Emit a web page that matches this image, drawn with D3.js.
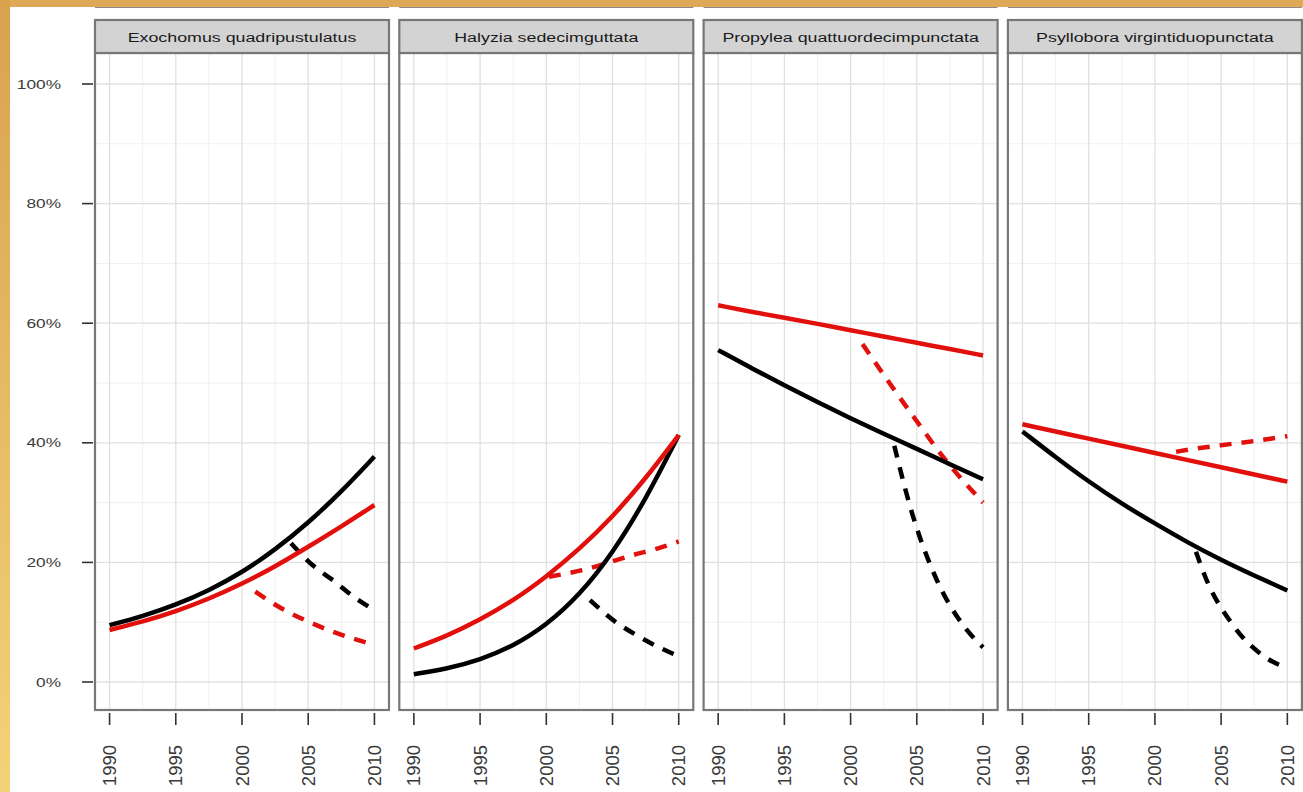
<!DOCTYPE html>
<html>
<head>
<meta charset="utf-8">
<script src="https://cdn.jsdelivr.net/npm/d3@7"></script>
<style>
  body { margin: 0; background: #fff; }
  svg { display: block; }
</style>
</head>
<body>
<div id="chart"></div>
<script>
  const width = 1303;
  const height = 792;

  // facet names
  const species = ["Exochomus quadripustulatus", "Halyzia sedecimguttata",
                   "Propylea quattuordecimpunctata", "Psyllobora virgintiduopunctata"];

  // axis ticks
  const yearTicks = [1990, 1995, 2000, 2005, 2010];
  const pctTicks = [0, 20, 40, 60, 80, 100];
  const pctMinor = [10, 30, 50, 70, 90];
  const yearMinor = [1992.5, 1997.5, 2002.5, 2007.5];

  const solidYears = [1990, 1992.5, 1995, 1997.5, 2000, 2002.5, 2005, 2007.5, 2010];
  const blackSolid = [
    [9.5, 11.0, 12.9, 15.3, 18.3, 22.1, 26.6, 31.8, 37.7],
    [1.3, 2.2, 3.7, 6.0, 9.5, 14.5, 21.5, 30.5, 41.3],
    [55.5, 52.5, 49.6, 46.8, 44.1, 41.5, 39.0, 36.4, 33.9],
    [41.9, 37.6, 33.5, 29.8, 26.5, 23.3, 20.4, 17.8, 15.3]
  ];
  const redSolid = [
    [8.7, 10.1, 11.8, 13.9, 16.4, 19.3, 22.6, 26.0, 29.6],
    [5.6, 7.7, 10.4, 13.6, 17.6, 22.2, 27.6, 34.0, 41.3],
    [63.0, 61.9, 60.9, 59.9, 58.8, 57.8, 56.7, 55.7, 54.6],
    [43.1, 41.9, 40.7, 39.5, 38.3, 37.1, 35.9, 34.7, 33.5]
  ];

  // dashed curves
  const blackDashYears = [
    [2003.7, 2005.3, 2007, 2008.4, 2010],
    [2003.3, 2005.2, 2007, 2008.7, 2010],
    [2003.3, 2004.5, 2006.5, 2008.5, 2010],
    [2003.1, 2003.8, 2005.8, 2008.3, 2010]
  ];
  const blackDash = [
    [23.2, 19.6, 16.8, 14.3, 12.0],
    [13.7, 10.1, 7.6, 5.6, 4.3],
    [39.5, 29.3, 17.1, 9.5, 5.8],
    [21.8, 17.6, 9.8, 4.2, 2.3]
  ];
  const redDashYears = [
    [2001, 2003, 2005, 2007, 2010],
    [2000.2, 2002.7, 2006.5, 2008.5, 2010],
    [2000.9, 2003, 2005, 2007, 2010],
    [2001.6, 2003, 2005, 2007.5, 2010]
  ];
  const redDash = [
    [15.1, 12.3, 10.1, 8.3, 6.2],
    [17.6, 18.7, 21.2, 22.4, 23.5],
    [56.5, 49.8, 43.6, 37.6, 30.0],
    [38.5, 39.0, 39.6, 40.3, 41.1]
  ];

  const svg = d3.select("#chart").append("svg")
    .attr("width", width).attr("height", height);

  const defs = svg.append("defs");
  const grad = defs.append("linearGradient").attr("id", "gold")
    .attr("x1", 0).attr("x2", 0).attr("y1", 0).attr("y2", 1);
  grad.append("stop").attr("offset", "0%").attr("stop-color", "#d9a24e");
  grad.append("stop").attr("offset", "100%").attr("stop-color", "#f3d377");

  // frame bits around the picture
  svg.append("rect").attr("x", 0).attr("y", 0).attr("width", width).attr("height", 7).attr("fill", "#dea856");
  svg.append("rect").attr("x", 0).attr("y", 0).attr("width", 10).attr("height", height).attr("fill", "url(#gold)");

  const panelTop = 53, panelBottom = 710, stripTop = 20, panelW = 294;
  const panelLeft = i => 95 + i * 304.3;

  const y = d3.scaleLinear().domain([0, 100]).range([682, 84]);

  // smooth for the fitted curves, monotone for the short dashed ones
  const smooth = d3.line().curve(d3.curveBasis).x(d => d.x).y(d => d.y);
  const dashLine = d3.line().curve(d3.curveMonotoneX).x(d => d.x).y(d => d.y);

  const red = "#e2100d";
  const font = "Liberation Sans, Arial, sans-serif";

  species.forEach((name, i) => {
    const left = panelLeft(i);
    const x = d3.scaleLinear().domain([1988.9, 2011.1]).range([left, left + panelW]);
    const g = svg.append("g");

    // grey line of the plot above
    g.append("line").attr("x1", left).attr("x2", left + panelW).attr("y1", 7.5).attr("y2", 7.5)
      .attr("stroke", "#8a8a8a").attr("stroke-width", 1.2);

    g.append("rect").attr("x", left).attr("y", panelTop).attr("width", panelW)
      .attr("height", panelBottom - panelTop).attr("fill", "#fff");

    // minor grid
    g.selectAll(".hmin").data(pctMinor).enter().append("line")
      .attr("x1", left).attr("x2", left + panelW)
      .attr("y1", d => y(d)).attr("y2", d => y(d))
      .attr("stroke", "#f0f0f0").attr("stroke-width", 1);
    g.selectAll(".vmin").data(yearMinor).enter().append("line")
      .attr("x1", d => x(d)).attr("x2", d => x(d))
      .attr("y1", panelTop).attr("y2", panelBottom)
      .attr("stroke", "#f0f0f0").attr("stroke-width", 1);
    // major grid
    g.selectAll(".hmaj").data(pctTicks).enter().append("line")
      .attr("x1", left).attr("x2", left + panelW)
      .attr("y1", d => y(d)).attr("y2", d => y(d))
      .attr("stroke", "#e0e0e0").attr("stroke-width", 1.3);
    g.selectAll(".vmaj").data(yearTicks).enter().append("line")
      .attr("x1", d => x(d)).attr("x2", d => x(d))
      .attr("y1", panelTop).attr("y2", panelBottom)
      .attr("stroke", "#e0e0e0").attr("stroke-width", 1.3);

    // curves
    const pts = (ys, vs) => ys.map((yr, k) => ({ x: x(yr), y: y(vs[k]) }));
    g.append("path").attr("d", dashLine(pts(blackDashYears[i], blackDash[i])))
      .attr("fill", "none").attr("stroke", "#000").attr("stroke-width", 4.5)
      .attr("stroke-dasharray", "12,10");
    g.append("path").attr("d", dashLine(pts(redDashYears[i], redDash[i])))
      .attr("fill", "none").attr("stroke", red).attr("stroke-width", 4.5)
      .attr("stroke-dasharray", "12,10");
    g.append("path").attr("d", smooth(pts(solidYears, blackSolid[i])))
      .attr("fill", "none").attr("stroke", "#000").attr("stroke-width", 4.5);
    g.append("path").attr("d", smooth(pts(solidYears, redSolid[i])))
      .attr("fill", "none").attr("stroke", red).attr("stroke-width", 4.5);

    // panel border and strip
    g.append("rect").attr("x", left).attr("y", panelTop).attr("width", panelW)
      .attr("height", panelBottom - panelTop).attr("fill", "none")
      .attr("stroke", "#777").attr("stroke-width", 2.2);
    g.append("rect").attr("x", left).attr("y", stripTop).attr("width", panelW)
      .attr("height", panelTop - stripTop).attr("fill", "#d3d3d3")
      .attr("stroke", "#777").attr("stroke-width", 2.2);
    g.append("text").text(name)
      .attr("transform", `translate(${left + panelW / 2}, ${(stripTop + panelTop) / 2 + 0.5}) scale(1.32,1)`)
      .attr("text-anchor", "middle").attr("dominant-baseline", "central")
      .attr("font-family", font).attr("font-size", 13.5).attr("fill", "#1a1a1a");

    // x axis
    g.selectAll(".xt").data(yearTicks).enter().append("line")
      .attr("x1", d => x(d)).attr("x2", d => x(d))
      .attr("y1", 713).attr("y2", 725)
      .attr("stroke", "#333").attr("stroke-width", 1.6);
    g.selectAll(".xl").data(yearTicks).enter().append("text")
      .text(d => d)
      .attr("transform", d => `translate(${x(d)}, 745) rotate(-90)`)
      .attr("text-anchor", "end").attr("dominant-baseline", "central")
      .attr("font-family", font).attr("font-size", 18.5).attr("fill", "#3a3a3a");
  });

  // y axis on the first panel
  const ya = svg.append("g");
  ya.selectAll("line").data(pctTicks).enter().append("line")
    .attr("x1", 82).attr("x2", 93)
    .attr("y1", d => y(d)).attr("y2", d => y(d))
    .attr("stroke", "#333").attr("stroke-width", 1.6);
  ya.selectAll("text").data(pctTicks).enter().append("text")
    .text(d => d + "%")
    .attr("transform", d => `translate(61, ${y(d)}) scale(1.33,1)`)
    .attr("text-anchor", "end").attr("dominant-baseline", "central")
    .attr("font-family", font).attr("font-size", 13).attr("fill", "#3a3a3a");
</script>
</body>
</html>
